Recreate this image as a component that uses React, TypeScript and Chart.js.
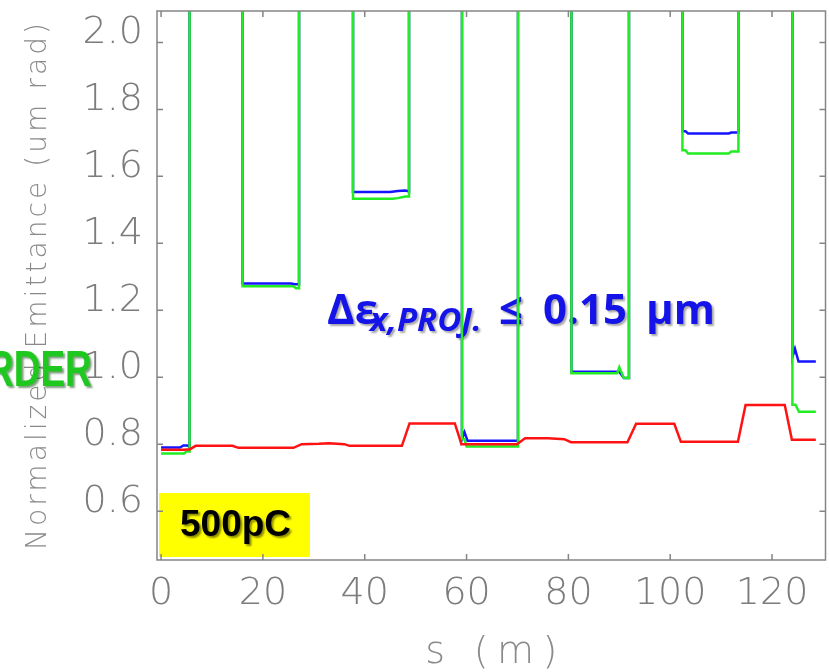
import React, { useEffect, useRef } from 'react';
import { Chart, registerables } from 'chart.js';

Chart.register(...registerables);

// ---- data (s in m, normalized emittance in um rad) ----
const redS = [0, 4.5, 5.7, 6.8, 14.0, 15.2, 26.0, 27.6, 31.0, 33.0, 36.0, 37.0, 47.3, 48.8, 57.7, 59.0, 69.9, 71.5, 76.0, 79.2, 80.5, 91.6, 93.3, 100.8, 102.1, 113.3, 114.8, 122.5, 123.9, 128.6];
const redEmit = [0.783, 0.783, 0.785, 0.795, 0.795, 0.789, 0.789, 0.8, 0.801, 0.803, 0.8, 0.795, 0.795, 0.862, 0.862, 0.8, 0.8, 0.818, 0.818, 0.815, 0.806, 0.806, 0.861, 0.861, 0.807, 0.807, 0.917, 0.917, 0.813, 0.813];

const greenS = [0, 4.5, 5.0, 5.6, 5.6, 16.0, 16.0, 26.0, 26.5, 27.1, 27.1, 37.7, 37.7, 45.5, 46.5, 48.0, 48.7, 48.7, 59.1, 59.1, 59.6, 60.0, 70.1, 70.1, 80.6, 80.6, 89.6, 90.0, 90.5, 90.9, 91.9, 91.9, 102.4, 102.4, 103.0, 103.5, 111.5, 112.0, 113.4, 113.4, 124.0, 124.0, 124.6, 125.3, 128.6];
const greenEmit = [0.772, 0.772, 0.778, 0.778, 3.0, 3.0, 1.272, 1.272, 1.266, 1.266, 3.0, 3.0, 1.533, 1.533, 1.535, 1.54, 1.54, 3.0, 3.0, 0.815, 0.815, 0.793, 0.793, 3.0, 3.0, 1.012, 1.012, 1.03, 1.012, 0.998, 0.998, 3.0, 3.0, 1.678, 1.678, 1.668, 1.668, 1.674, 1.674, 3.0, 3.0, 0.918, 0.918, 0.897, 0.897];

const blueS = [0, 3.7, 4.4, 5.3, 5.6, 5.6, 16.0, 16.0, 25.5, 26.3, 27.1, 27.1, 37.7, 37.7, 45.0, 46.5, 48.0, 48.7, 48.7, 59.1, 59.1, 59.6, 60.2, 70.0, 70.1, 80.6, 80.6, 90.0, 90.9, 91.9, 91.9, 102.4, 102.4, 103.0, 103.5, 111.5, 112.0, 113.4, 113.4, 124.0, 124.0, 124.5, 125.2, 128.6];
const blueEmit = [0.79, 0.79, 0.796, 0.796, 0.79, 3.0, 3.0, 1.28, 1.28, 1.278, 1.278, 3.0, 3.0, 1.553, 1.553, 1.556, 1.558, 1.555, 3.0, 3.0, 0.815, 0.836, 0.81, 0.81, 3.0, 3.0, 1.016, 1.016, 0.998, 0.998, 3.0, 3.0, 1.735, 1.735, 1.728, 1.728, 1.731, 1.731, 3.0, 3.0, 1.06, 1.085, 1.047, 1.047];

const xTickValues = [0, 20, 40, 60, 80, 100, 120];
const yTickValues = [0.6, 0.8, 1.0, 1.2, 1.4, 1.6, 1.8, 2.0];

const xTitle = 's (m)';
const yTitle = 'Normalized Emittance (um rad)';
const chargeLabel = '500pC';
const leftWord = 'RDER';

const THIN = '"DejaVu Sans", sans-serif';
const BOLD = '"Open Sans", "DejaVu Sans", sans-serif';
const GRAY = '#7c7c7c';

function pts(xs: number[], ys: number[]) {
  return xs.map((x, i) => ({ x, y: ys[i] }));
}

function spacedText(ctx: CanvasRenderingContext2D, text: string, x: number, y: number, targetWidth: number) {
  (ctx as any).letterSpacing = '0px';
  const w = ctx.measureText(text).width;
  const sp = Math.max(0, (targetWidth - w) / Math.max(1, text.length - 1));
  (ctx as any).letterSpacing = sp + 'px';
  const w2 = ctx.measureText(text).width;
  ctx.textAlign = 'left';
  ctx.fillText(text, x - (w2 - sp) / 2, y);
  (ctx as any).letterSpacing = '0px';
}

const zeroPad = (s: any) => {
  s.paddingTop = 0;
  s.paddingBottom = 0;
  s.paddingLeft = 0;
  s.paddingRight = 0;
};

const decor = {
  id: 'decor',
  beforeDatasetsDraw(chart: any) {
    const ctx: CanvasRenderingContext2D = chart.ctx;
    ctx.save();
    ctx.fillStyle = '#1414e8';
    ctx.shadowColor = 'rgba(0,0,0,0.35)';
    ctx.shadowOffsetX = 2;
    ctx.shadowOffsetY = 2;
    ctx.shadowBlur = 2;
    ctx.textBaseline = 'alphabetic';
    ctx.textAlign = 'left';
    ctx.font = `bold 42px ${BOLD}`;
    ctx.fillText('Δε', 327, 324);
    ctx.font = `italic bold 33px ${BOLD}`;
    ctx.fillText('x,PROJ.', 370, 331);
    ctx.font = `bold 42px ${BOLD}`;
    ctx.fillText('≤', 499, 324);
    ctx.fillText('0.15', 543, 324);
    ctx.fillText('μm', 646, 324);
    ctx.restore();
  },
  afterDatasetsDraw(chart: any) {
    const ctx: CanvasRenderingContext2D = chart.ctx;
    const a = chart.chartArea;
    const xs = chart.scales.x;
    const ys = chart.scales.y;
    ctx.save();
    ctx.fillStyle = '#ffff00';
    ctx.fillRect(159, 493, 151, 64);
    ctx.fillStyle = '#000';
    ctx.shadowColor = 'rgba(0,0,0,0.45)';
    ctx.shadowOffsetX = 2;
    ctx.shadowOffsetY = 2;
    ctx.shadowBlur = 2;
    ctx.font = 'bold 37px "Liberation Sans", sans-serif';
    ctx.textBaseline = 'alphabetic';
    ctx.textAlign = 'left';
    ctx.fillText(chargeLabel, 180, 536);
    ctx.restore();

    ctx.save();
    ctx.strokeStyle = '#858585';
    ctx.lineWidth = 1.5;
    ctx.strokeRect(a.left, a.top, a.right - a.left, a.bottom - a.top);
    ctx.beginPath();
    const tl = 6;
    xTickValues.forEach((v) => {
      const px = xs.getPixelForValue(v);
      ctx.moveTo(px, a.bottom);
      ctx.lineTo(px, a.bottom - tl);
      ctx.moveTo(px, a.top);
      ctx.lineTo(px, a.top + tl);
    });
    yTickValues.forEach((v) => {
      const py = ys.getPixelForValue(v);
      ctx.moveTo(a.left, py);
      ctx.lineTo(a.left + tl, py);
      ctx.moveTo(a.right, py);
      ctx.lineTo(a.right - tl, py);
    });
    ctx.stroke();
    ctx.restore();
  },
  afterDraw(chart: any) {
    const ctx: CanvasRenderingContext2D = chart.ctx;
    const a = chart.chartArea;
    ctx.save();
    ctx.fillStyle = '#8a8a8a';
    ctx.textBaseline = 'alphabetic';
    ctx.font = `200 28px ${THIN}`;
    ctx.translate(46, 286.5);
    ctx.rotate(-Math.PI / 2);
    spacedText(ctx, yTitle, 0, 0, 527);
    ctx.restore();

    ctx.save();
    ctx.fillStyle = '#8a8a8a';
    ctx.textBaseline = 'alphabetic';
    ctx.font = `200 38px ${THIN}`;
    spacedText(ctx, xTitle, (a.left + a.right) / 2, 663, 132);
    ctx.restore();

    ctx.save();
    ctx.fillStyle = '#1ec81e';
    ctx.shadowColor = 'rgba(0,60,0,0.5)';
    ctx.shadowOffsetX = 2;
    ctx.shadowOffsetY = 2;
    ctx.shadowBlur = 2;
    ctx.font = 'bold 50px "Liberation Sans", sans-serif';
    ctx.textBaseline = 'alphabetic';
    ctx.textAlign = 'left';
    ctx.translate(-13, 386);
    ctx.scale(0.74, 1);
    ctx.fillText(leftWord, 0, 0);
    ctx.restore();
  },
};

export default function App() {
  const ref = useRef<HTMLCanvasElement | null>(null);

  useEffect(() => {
    document.body.style.margin = '0';
    const canvas = ref.current;
    if (!canvas) return;
    const tickFont = { family: THIN, size: 38, weight: '200' as any };
    const chart = new Chart(canvas, {
      type: 'line',
      data: {
        datasets: [
          { label: 'proj', data: pts(redS, redEmit), borderColor: '#ff1212', borderWidth: 2.5, pointRadius: 0, order: 0, tension: 0 },
          { label: 'y', data: pts(greenS, greenEmit), borderColor: '#22ec22', borderWidth: 2.5, pointRadius: 0, order: 1, tension: 0 },
          { label: 'x', data: pts(blueS, blueEmit), borderColor: '#1414ff', borderWidth: 2.5, pointRadius: 0, order: 2, tension: 0 },
        ],
      },
      options: {
        animation: false,
        responsive: false,
        devicePixelRatio: 1,
        layout: { padding: { top: 11, right: 3.5, left: 0, bottom: 0 } },
        plugins: { legend: { display: false }, tooltip: { enabled: false }, title: { display: false } },
        scales: {
          x: {
            type: 'linear',
            min: -0.8,
            max: 130.5,
            afterBuildTicks: (s: any) => {
              s.ticks = xTickValues.map((v) => ({ value: v }));
            },
            afterFit: (s: any) => {
              s.height = 112;
              zeroPad(s);
            },
            grid: { display: false, drawTicks: false },
            border: { display: false },
            ticks: {
              font: tickFont,
              color: GRAY,
              padding: 11,
              maxRotation: 0,
              autoSkip: false,
              callback: (v: any) => String(v),
            },
          },
          y: {
            type: 'linear',
            min: 0.454,
            max: 2.094,
            afterBuildTicks: (s: any) => {
              s.ticks = yTickValues.map((v) => ({ value: v }));
            },
            afterFit: (s: any) => {
              s.width = 157;
              zeroPad(s);
            },
            grid: { display: false, drawTicks: false },
            border: { display: false },
            ticks: {
              font: tickFont,
              color: GRAY,
              padding: 14,
              labelOffset: -9,
              autoSkip: false,
              callback: (v: any) => Number(v).toFixed(1),
            },
          },
        },
      },
      plugins: [decor],
    });
    return () => chart.destroy();
  }, []);

  return (
    <div style={{ position: 'absolute', left: 0, top: 0, width: 829, height: 672 }}>
      <canvas ref={ref} width={829} height={672} style={{ display: 'block', width: 829, height: 672 }} />
    </div>
  );
}
